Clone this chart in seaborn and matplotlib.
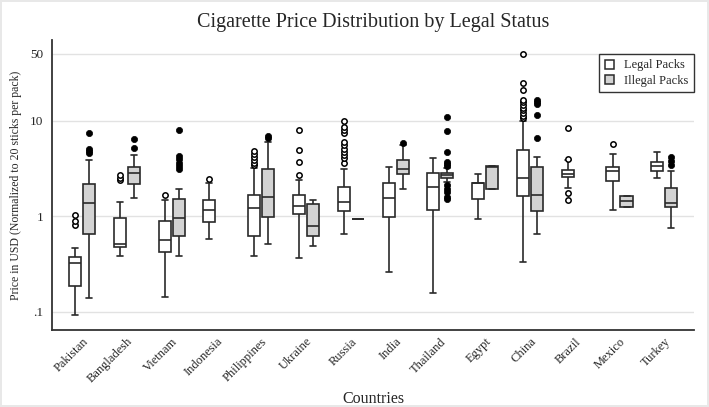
import matplotlib
matplotlib.use("Agg")
import matplotlib.pyplot as plt
from matplotlib.patches import Patch
from matplotlib.ticker import NullLocator
import pandas as pd
import seaborn as sns

countries = ['Pakistan', 'Bangladesh', 'Vietnam', 'Indonesia', 'Philippines', 'Ukraine', 'Russia',
             'India', 'Thailand', 'Egypt', 'China', 'Brazil', 'Mexico', 'Turkey']
status_order = ['Legal Packs', 'Illegal Packs']

# box summaries: low whisker, q1, median, q3, high whisker (USD)
legal_summary = [
    [0.0925, 0.185, 0.324, 0.372, 0.466],   # Pakistan
    [0.387, 0.481, 0.513, 0.968, 1.41],     # Bangladesh
    [0.142, 0.426, 0.569, 0.90, 1.48],      # Vietnam
    [0.583, 0.871, 1.16, 1.48, 2.21],       # Indonesia
    [0.387, 0.622, 1.21, 1.68, 3.18],       # Philippines
    [0.369, 1.05, 1.29, 1.66, 2.40],        # Ukraine
    [0.653, 1.13, 1.40, 2.01, 3.15],        # Russia
    [0.259, 0.976, 1.54, 2.21, 3.26],       # India
    [0.156, 1.17, 2.04, 2.82, 4.08],        # Thailand
    [0.944, 1.52, 2.21, 2.25, 2.75],        # Egypt
    [0.33, 1.64, 2.50, 4.91, 9.95],         # China
    [1.98, 2.56, 2.79, 3.03, 3.90],         # Brazil
    [1.17, 2.36, 3.00, 3.31, 4.46],         # Mexico
    [2.52, 3.00, 3.39, 3.73, 4.71],         # Turkey
]
illegal_summary = [
    [0.14, 0.648, 1.39, 2.16, 3.92],        # Pakistan
    [1.54, 2.18, 2.86, 3.26, 4.35],         # Bangladesh
    [0.384, 0.617, 0.953, 1.53, 1.92],      # Vietnam
    None,                                   # Indonesia
    [0.513, 0.976, 1.58, 3.15, 6.04],       # Philippines
    [0.492, 0.617, 0.797, 1.36, 1.48],      # Ukraine
    [0.944, 0.944, 0.944, 0.944, 0.944],    # Russia
    [1.94, 2.77, 3.10, 3.89, 5.60],         # India
    [2.30, 2.50, 2.71, 2.86, 3.18],         # Thailand
    [1.94, 1.94, 3.30, 3.36, 3.36],         # Egypt
    [0.658, 1.14, 1.66, 3.28, 4.15],        # China
    None,                                   # Brazil
    [1.25, 1.25, 1.44, 1.64, 1.64],         # Mexico
    [0.748, 1.24, 1.39, 1.99, 2.98],        # Turkey
]

# outside values
legal_outliers = [
    [0.82, 0.90, 1.02],
    [2.40, 2.54, 2.71],
    [1.66],
    [2.44],
    [3.42, 3.64, 3.92, 4.21, 4.49, 4.83],
    [2.71, 3.70, 4.91, 8.01],
    [3.59, 4.05, 4.35, 4.68, 5.03, 5.53, 5.96, 7.5, 8.01, 8.55, 10.0],
    [],
    [],
    [],
    [10.6, 11.3, 12.1, 12.9, 13.7, 14.6, 15.6, 16.6, 20.7, 25.0, 50.0],
    [1.47, 1.75, 4.0, 8.4],
    [5.67],
    [],
]
illegal_outliers = [
    [4.6, 4.83, 5.07, 7.4],
    [5.15, 6.45],
    [3.1, 3.36, 3.64, 3.95, 4.31, 8.07],
    [],
    [6.65, 6.93],
    [],
    [],
    [5.8],
    [1.52, 1.6, 1.8, 1.95, 2.13, 3.36, 3.53, 3.73, 4.71, 7.77, 11.0],
    [],
    [6.56, 11.5, 14.9, 15.7, 16.6],
    [],
    [],
    [3.47, 3.83, 4.15],
]

colors = {'Legal Packs': 'white', 'Illegal Packs': '#d3d3d3'}
edge = '#2a2a2a'

# long table for seaborn
rows = []
for status, summary in zip(status_order, [legal_summary, illegal_summary]):
    for c, vals in zip(countries, summary):
        if vals is None:
            continue
        for v in vals:
            rows.append({'country': c, 'status': status, 'price': v})
df = pd.DataFrame(rows)

sns.set_style('white')
plt.rcParams['font.family'] = ['Liberation Serif', 'DejaVu Serif']

fig = plt.figure(figsize=(7.09, 4.07), dpi=100)
fig.patch.set_edgecolor('#e8e8e8')
fig.patch.set_linewidth(1.5)
ax = fig.add_axes([0.0733, 0.189, 0.906, 0.713])

box_width = 0.625
sns.boxplot(data=df, x='country', y='price', hue='status', order=countries, hue_order=status_order,
            palette=colors, saturation=1, dodge=True, width=box_width, gap=0.14, whis=(0, 100),
            showfliers=False, linecolor=edge, linewidth=1.2, legend=False, ax=ax)

# outside values at the same dodge offsets as the boxes
off = box_width / 4
for i, vals in enumerate(legal_outliers):
    ax.scatter([i - off] * len(vals), vals, s=15, facecolor='white', edgecolor='black',
               linewidth=1.1, zorder=3)
for i, vals in enumerate(illegal_outliers):
    ax.scatter([i + off] * len(vals), vals, s=20, facecolor='black', edgecolor='black',
               linewidth=0.5, zorder=3)

ax.set_yscale('log')
ax.set_ylim(0.0645, 70)
ax.set_xlim(-0.67, len(countries) - 0.33)
ax.set_yticks([0.1, 1, 10, 50])
ax.set_yticklabels(['.1', '1', '10', '50'])
ax.yaxis.set_minor_locator(NullLocator())
ax.yaxis.grid(True, color='#e2e2e2', linewidth=1)
ax.set_axisbelow(True)

for s in ['top', 'right']:
    ax.spines[s].set_visible(False)
for s in ['left', 'bottom']:
    ax.spines[s].set_color('#333333')
    ax.spines[s].set_linewidth(1.3)

ax.tick_params(axis='y', length=4, width=1, color='#333333', labelsize=9.5, pad=2)
ax.tick_params(axis='x', length=0, labelsize=9, pad=4)
plt.setp(ax.get_xticklabels(), rotation=45, ha='right', rotation_mode='anchor')

ax.set_title('Cigarette Price Distribution by Legal Status', fontsize=14.5, pad=9)
ax.set_xlabel('Countries', fontsize=11.5, labelpad=4)
ax.set_ylabel('Price in USD (Normalized to 20 sticks per pack)', fontsize=8.5, labelpad=6)

handles = [Patch(facecolor=colors[s], edgecolor=edge, linewidth=1.1, label=s) for s in status_order]
leg = ax.legend(handles=handles, loc='upper right', bbox_to_anchor=(1.0, 0.952), borderaxespad=0,
                fontsize=9, handlelength=0.75, handleheight=0.75, handletextpad=0.8,
                fancybox=False, framealpha=1, edgecolor='#333333', labelspacing=0.25,
                borderpad=0.45)
leg.get_frame().set_linewidth(1)

fig.savefig('out.png', dpi=100)
